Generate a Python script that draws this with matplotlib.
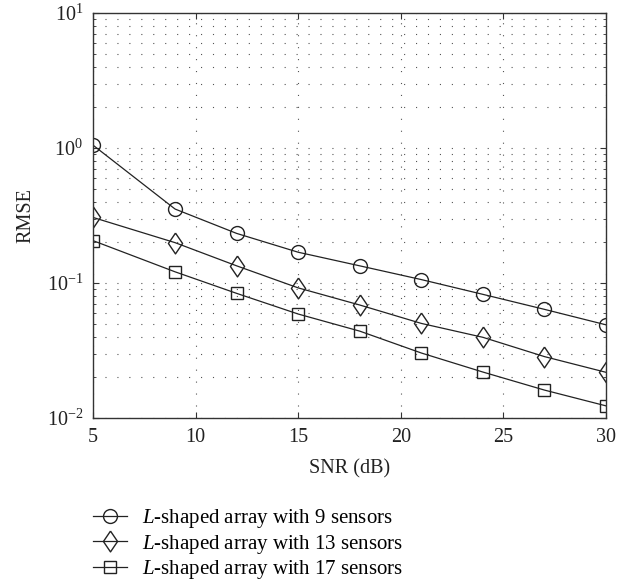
import matplotlib
matplotlib.use("Agg")
import matplotlib.pyplot as plt
from matplotlib.ticker import LogLocator, NullFormatter, FixedLocator

plt.rcParams['font.family'] = ['Liberation Serif', 'DejaVu Serif']
plt.rcParams['mathtext.fontset'] = 'custom'
plt.rcParams['mathtext.rm'] = 'Liberation Serif'
plt.rcParams['mathtext.it'] = 'Liberation Serif:italic'
plt.rcParams['lines.scale_dashes'] = False

snr = [5, 9, 12, 15, 18, 21, 24, 27, 30]
rmse_9 = [1.05, 0.353, 0.233, 0.169, 0.134, 0.106, 0.0824, 0.0638, 0.049]
rmse_13 = [0.306, 0.199, 0.134, 0.092, 0.0687, 0.0502, 0.0396, 0.0285, 0.0218]
rmse_17 = [0.206, 0.121, 0.0838, 0.0589, 0.044, 0.0303, 0.0219, 0.0161, 0.0123]
labels = [r'$L$-shaped array with 9 sensors',
          r'$L$-shaped array with 13 sensors',
          r'$L$-shaped array with 17 sensors']

W, H = 633, 582
fig = plt.figure(figsize=(W/100, H/100), dpi=100)
ax = fig.add_axes([93/W, 1-418/H, (606-93)/W, (418-13)/H])

col = '#222222'
diamond = [(0, 1), (0.68, 0), (0, -1), (-0.68, 0), (0, 1)]
common = dict(color=col, lw=0.9, mfc='none', mec=col, mew=1.0)
ax.plot(snr, rmse_9, marker='o', ms=10, label=labels[0], **common)
ax.plot(snr, rmse_13, marker=diamond, ms=15, label=labels[1], **common)
ax.plot(snr, rmse_17, marker='s', ms=8.6, label=labels[2], **common)

ax.set_yscale('log')
ax.set_xlim(5, 30)
ax.set_ylim(1e-2, 1e1)
ax.xaxis.set_major_locator(FixedLocator([5, 10, 15, 20, 25, 30]))
ax.yaxis.set_major_locator(LogLocator(base=10, numticks=10))
ax.yaxis.set_minor_locator(LogLocator(base=10, subs=range(2, 10), numticks=10))
ax.yaxis.set_minor_formatter(NullFormatter())

ax.tick_params(which='both', direction='in', top=True, right=True, labelsize=14.5,
               colors='#333333', labelcolor='#222222')
ax.tick_params(which='major', length=4, width=0.8, pad=7)
ax.tick_params(which='minor', length=2.5, width=0.6)

dot = (0, (0.8, 7.8))
ax.grid(True, which='major', axis='x', color='#555555', lw=0.8, linestyle=dot)
ax.grid(True, which='both', axis='y', color='#555555', lw=0.8, linestyle=dot)
for s in ax.spines.values():
    s.set_linewidth(1.0)
    s.set_color('#333333')

ax.set_xlabel('SNR (dB)', fontsize=14.5, color='#222222', labelpad=9)
ax.set_ylabel('RMSE', fontsize=14.5, color='#222222', labelpad=8)

fig.legend(loc='upper left', bbox_to_anchor=(93/W, 1-507/H), frameon=False,
           fontsize=15, handlelength=1.63, handletextpad=0.7, labelspacing=0.12,
           borderaxespad=0, borderpad=0)

fig.savefig('out.png', dpi=100)
